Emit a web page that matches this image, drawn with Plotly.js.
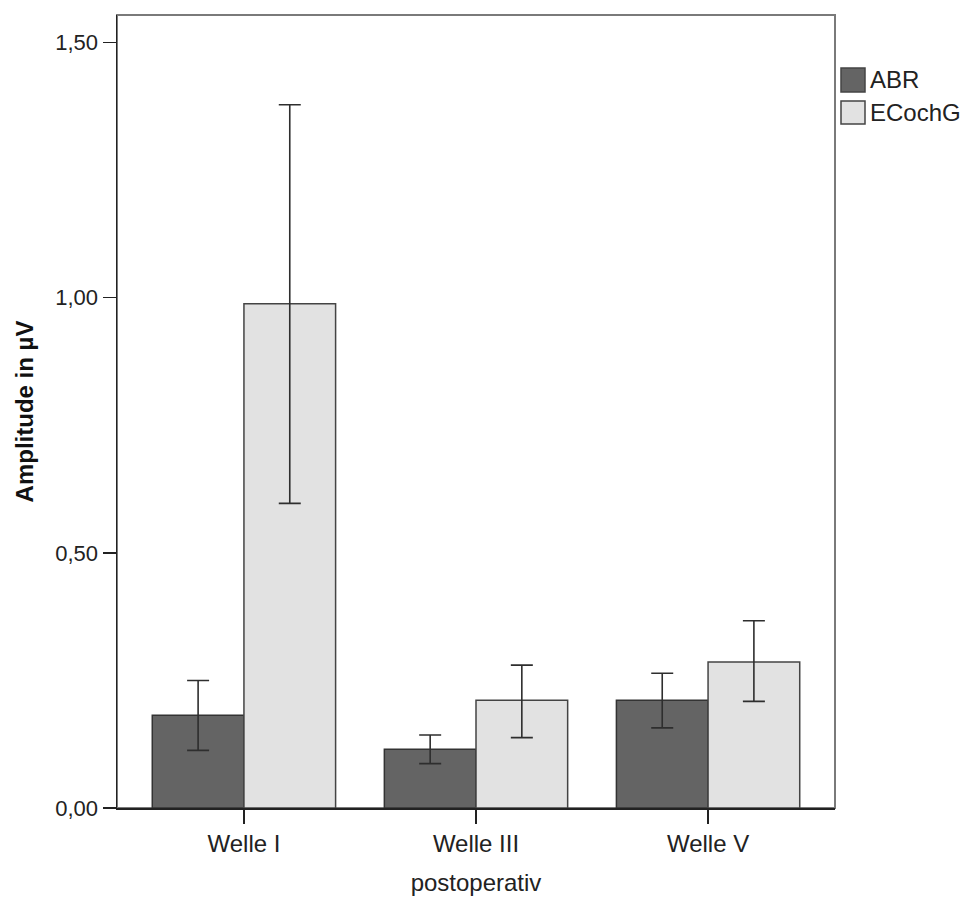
<!DOCTYPE html>
<html>
<head>
<meta charset="utf-8">
<script src="https://cdn.plot.ly/plotly-3.0.1.min.js"></script>
<style>html,body{margin:0;padding:0;background:#fff;}#chart{width:973px;height:897px;}</style>
</head>
<body>
<div id="chart"></div>
<script>
const categories = ["Welle I", "Welle III", "Welle V"];
const seriesNames = ["ABR", "ECochG"];
const abrMean = [0.182, 0.115, 0.211];
const abrLower = [0.113, 0.087, 0.157];
const abrUpper = [0.250, 0.143, 0.264];
const ecochgMean = [0.988, 0.211, 0.286];
const ecochgLower = [0.597, 0.138, 0.209];
const ecochgUpper = [1.378, 0.280, 0.367];
const yTickVals = [0, 0.5, 1.0, 1.5];
const seriesColors = ['#646464', '#e2e2e2'];

function errSpec(mean, lo, hi) {
  return {
    type: 'data', symmetric: false,
    array: hi.map((v, i) => v - mean[i]),
    arrayminus: mean.map((v, i) => v - lo[i]),
    color: '#2e2e2e', thickness: 1.6, width: 11
  };
}

const font = 'Liberation Sans, Arial, sans-serif';
const traces = [
  {type: 'bar', name: seriesNames[0], x: categories, y: abrMean,
   marker: {color: seriesColors[0], line: {color: '#333333', width: 1.5}},
   error_y: errSpec(abrMean, abrLower, abrUpper)},
  {type: 'bar', name: seriesNames[1], x: categories, y: ecochgMean,
   marker: {color: seriesColors[1], line: {color: '#444444', width: 1.5}},
   error_y: errSpec(ecochgMean, ecochgLower, ecochgUpper)}
];

// custom legend (pixel -> paper conversion for the plot area)
const L = 117, R = 835, T = 15, B = 808;
const px = x => (x - L) / (R - L);
const py = y => (B - y) / (B - T);
const legendRows = [{y0: 68, y1: 92}, {y0: 101, y1: 124}];
const shapes = [
  {type: 'rect', xref: 'paper', yref: 'paper', x0: 0, x1: 1, y0: 0, y1: 1,
   line: {color: '#7a7a7a', width: 2}, fillcolor: 'rgba(0,0,0,0)', layer: 'below'}
];
const annotations = [];
seriesNames.forEach((name, i) => {
  const r = legendRows[i];
  shapes.push({type: 'rect', xref: 'paper', yref: 'paper',
    x0: px(841), x1: px(865), y0: py(r.y1), y1: py(r.y0),
    line: {color: '#444444', width: 1.5}, fillcolor: seriesColors[i]});
  annotations.push({xref: 'paper', yref: 'paper', x: px(868), y: py((r.y0 + r.y1) / 2),
    xanchor: 'left', yanchor: 'middle', showarrow: false, text: name,
    font: {family: font, size: 24, color: '#222222'}});
});

const layout = {
  width: 973, height: 897,
  margin: {l: L, r: 973 - R, t: T, b: 897 - B},
  paper_bgcolor: '#ffffff', plot_bgcolor: '#ffffff',
  separators: ',.',
  barmode: 'group', bargap: 0.21, bargroupgap: 0,
  font: {family: font, color: '#222222', size: 22},
  showlegend: false,
  xaxis: {
    range: [-0.547, 2.547], showgrid: false, zeroline: false,
    showline: true, linecolor: '#222222', linewidth: 1.5,
    ticks: 'outside', ticklen: 14, tickwidth: 1.5, tickcolor: '#222222',
    tickfont: {family: font, size: 24, color: '#222222'},
    title: {text: 'postoperativ', font: {family: font, size: 24, color: '#222222'}, standoff: 18}
  },
  yaxis: {
    range: [0, 1.554], showgrid: false, zeroline: false,
    showline: true, linecolor: '#222222', linewidth: 1.5,
    ticks: 'outside', ticklen: 13, tickwidth: 1.5, tickcolor: '#222222',
    tickvals: yTickVals, tickformat: '.2f',
    tickfont: {family: font, size: 22, color: '#222222'},
    title: {text: '<b>Amplitude in µV</b>', font: {family: font, size: 24, color: '#111111'}, standoff: 15}
  },
  shapes: shapes,
  annotations: annotations
};

Plotly.newPlot('chart', traces, layout, {displayModeBar: false, staticPlot: true});
</script>
</body>
</html>
